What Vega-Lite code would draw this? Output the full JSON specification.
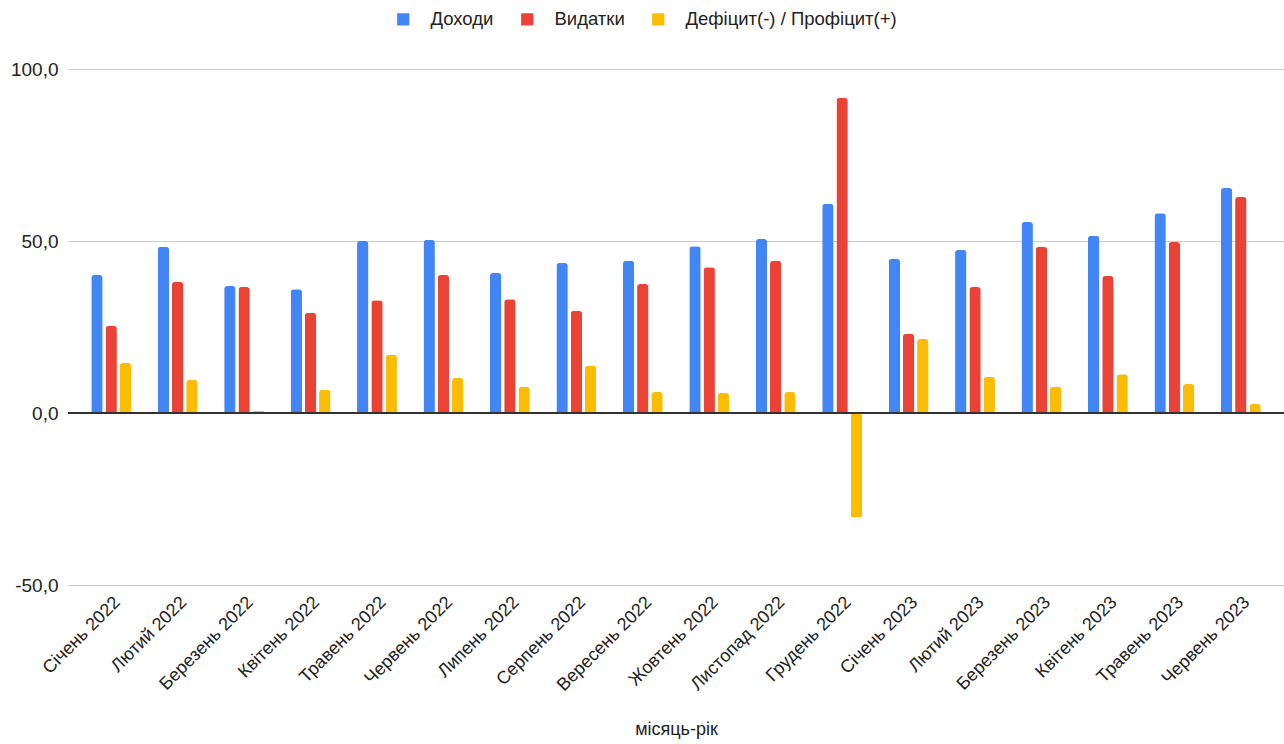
{
  "$schema": "https://vega.github.io/schema/vega-lite/v6.json",
  "autosize": {"type": "none"},
  "width": 1216,
  "height": 516,
  "padding": {"left": 68, "top": 69, "right": 0, "bottom": 159},
  "background": "#ffffff",
  "config": {
    "font": "Liberation Sans",
    "view": {"stroke": null},
    "locale": {"number": {"decimal": ",", "thousands": " ", "grouping": [3], "currency": ["", ""], "minus": "-"}}
  },
  "data": {"values": [
    {"m": "Січень 2022", "s": "Доходи", "v": 40.1}, {"m": "Січень 2022", "s": "Видатки", "v": 25.3}, {"m": "Січень 2022", "s": "Дефіцит(-) / Профіцит(+)", "v": 14.5},
    {"m": "Лютий 2022", "s": "Доходи", "v": 48.3}, {"m": "Лютий 2022", "s": "Видатки", "v": 38.1}, {"m": "Лютий 2022", "s": "Дефіцит(-) / Профіцит(+)", "v": 9.6},
    {"m": "Березень 2022", "s": "Доходи", "v": 36.9}, {"m": "Березень 2022", "s": "Видатки", "v": 36.6}, {"m": "Березень 2022", "s": "Дефіцит(-) / Профіцит(+)", "v": 0.6},
    {"m": "Квітень 2022", "s": "Доходи", "v": 36.0}, {"m": "Квітень 2022", "s": "Видатки", "v": 29.1}, {"m": "Квітень 2022", "s": "Дефіцит(-) / Профіцит(+)", "v": 6.7},
    {"m": "Травень 2022", "s": "Доходи", "v": 50.0}, {"m": "Травень 2022", "s": "Видатки", "v": 32.8}, {"m": "Травень 2022", "s": "Дефіцит(-) / Профіцит(+)", "v": 16.9},
    {"m": "Червень 2022", "s": "Доходи", "v": 50.3}, {"m": "Червень 2022", "s": "Видатки", "v": 40.1}, {"m": "Червень 2022", "s": "Дефіцит(-) / Профіцит(+)", "v": 10.2},
    {"m": "Липень 2022", "s": "Доходи", "v": 40.7}, {"m": "Липень 2022", "s": "Видатки", "v": 33.1}, {"m": "Липень 2022", "s": "Дефіцит(-) / Профіцит(+)", "v": 7.6},
    {"m": "Серпень 2022", "s": "Доходи", "v": 43.6}, {"m": "Серпень 2022", "s": "Видатки", "v": 29.7}, {"m": "Серпень 2022", "s": "Дефіцит(-) / Профіцит(+)", "v": 13.7},
    {"m": "Вересень 2022", "s": "Доходи", "v": 44.2}, {"m": "Вересень 2022", "s": "Видатки", "v": 37.5}, {"m": "Вересень 2022", "s": "Дефіцит(-) / Профіцит(+)", "v": 6.1},
    {"m": "Жовтень 2022", "s": "Доходи", "v": 48.5}, {"m": "Жовтень 2022", "s": "Видатки", "v": 42.4}, {"m": "Жовтень 2022", "s": "Дефіцит(-) / Профіцит(+)", "v": 5.8},
    {"m": "Листопад 2022", "s": "Доходи", "v": 50.6}, {"m": "Листопад 2022", "s": "Видатки", "v": 44.2}, {"m": "Листопад 2022", "s": "Дефіцит(-) / Профіцит(+)", "v": 6.1},
    {"m": "Грудень 2022", "s": "Доходи", "v": 60.8}, {"m": "Грудень 2022", "s": "Видатки", "v": 91.6}, {"m": "Грудень 2022", "s": "Дефіцит(-) / Профіцит(+)", "v": -30.2},
    {"m": "Січень 2023", "s": "Доходи", "v": 44.8}, {"m": "Січень 2023", "s": "Видатки", "v": 23.0}, {"m": "Січень 2023", "s": "Дефіцит(-) / Профіцит(+)", "v": 21.5},
    {"m": "Лютий  2023", "s": "Доходи", "v": 47.4}, {"m": "Лютий  2023", "s": "Видатки", "v": 36.6}, {"m": "Лютий  2023", "s": "Дефіцит(-) / Профіцит(+)", "v": 10.5},
    {"m": "Березень 2023", "s": "Доходи", "v": 55.5}, {"m": "Березень 2023", "s": "Видатки", "v": 48.3}, {"m": "Березень 2023", "s": "Дефіцит(-) / Профіцит(+)", "v": 7.6},
    {"m": "Квітень 2023", "s": "Доходи", "v": 51.5}, {"m": "Квітень 2023", "s": "Видатки", "v": 39.8}, {"m": "Квітень 2023", "s": "Дефіцит(-) / Профіцит(+)", "v": 11.3},
    {"m": "Травень 2023", "s": "Доходи", "v": 58.1}, {"m": "Травень 2023", "s": "Видатки", "v": 49.7}, {"m": "Травень 2023", "s": "Дефіцит(-) / Профіцит(+)", "v": 8.4},
    {"m": "Червень 2023", "s": "Доходи", "v": 65.4}, {"m": "Червень 2023", "s": "Видатки", "v": 62.8}, {"m": "Червень 2023", "s": "Дефіцит(-) / Профіцит(+)", "v": 2.6}
  ]},
  "layer": [
    {
      "mark": {"type": "bar", "cornerRadiusEnd": 3},
      "encoding": {
        "x": {"field": "m", "type": "nominal", "sort": null,
              "scale": {"paddingInner": 0.4, "paddingOuter": 0.35},
              "axis": {"title": "місяць-рік", "labelAngle": -45, "labelFontSize": 18, "labelColor": "#222222",
                       "labelPadding": 8, "domain": false, "ticks": false, "grid": false,
                       "titleFontSize": 18, "titleFontWeight": "normal", "titleColor": "#222222", "titlePadding": 26}},
        "xOffset": {"field": "s", "type": "nominal", "sort": ["Доходи", "Видатки", "Дефіцит(-) / Профіцит(+)"],
                    "scale": {"paddingInner": 0.2}},
        "y": {"field": "v", "type": "quantitative",
              "scale": {"domain": [-50, 100], "nice": false},
              "axis": {"title": null, "values": [-50, 0, 50, 100], "format": ".1f", "labelFontSize": 19,
                       "labelColor": "#222222", "labelPadding": 10, "domain": false, "ticks": false,
                       "gridColor": "#cccccc", "gridWidth": 1.2}},
        "color": {"field": "s", "type": "nominal",
                  "scale": {"domain": ["Доходи", "Видатки", "Дефіцит(-) / Профіцит(+)"], "range": ["#4285F4", "#EA4335", "#FBBC04"]},
                  "legend": {"title": null, "orient": "none", "legendX": 326, "legendY": -59, "direction": "horizontal", "symbolType": "square",
                             "symbolSize": 150, "labelFontSize": 18.5, "labelColor": "#222222", "labelOffset": 18, "labelLimit": 0,
                             "columnPadding": 24, "symbolStrokeWidth": 0}}
      }
    },
    {
      "mark": {"type": "rule", "color": "#333333", "strokeWidth": 1.5},
      "encoding": {"y": {"datum": 0}}
    }
  ]
}
